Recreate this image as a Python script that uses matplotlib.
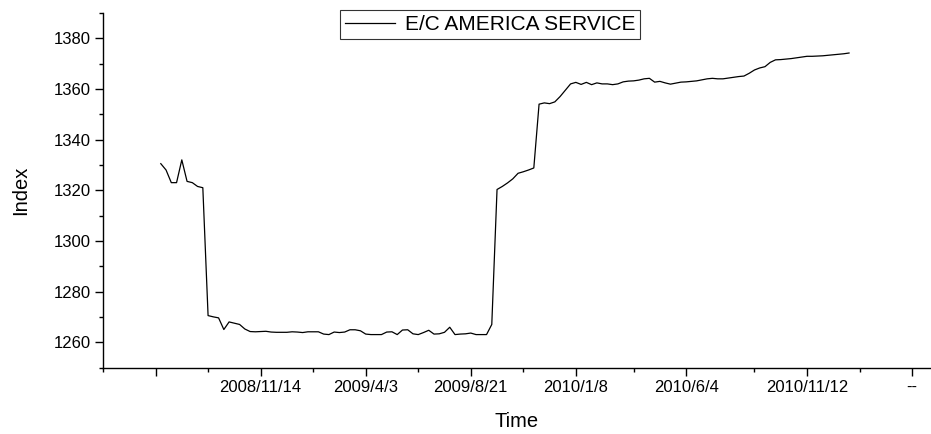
import numpy as np
import pandas as pd
import matplotlib
matplotlib.use("Agg")
import matplotlib.pyplot as plt
from matplotlib.ticker import MultipleLocator, FixedLocator, NullFormatter

plt.rcParams['font.family'] = ['Liberation Sans', 'DejaVu Sans']

# weekly index values, 2008/7/4 .. 2011/2/4
weeks = pd.date_range('2008-07-04', periods=132, freq='7D')
index_vals = [
    1330.5, 1328.0, 1323.0, 1323.0, 1332.0, 1323.5, 1323.0, 1321.5, 1321.0, 1270.5,
    1270.0, 1269.6, 1265.0, 1268.0, 1267.5, 1267.0, 1265.2, 1264.2, 1264.1, 1264.2,
    1264.3, 1264.0, 1263.9, 1263.9, 1263.9, 1264.1, 1264.0, 1263.8, 1264.1, 1264.1,
    1264.1, 1263.2, 1263.0, 1264.0, 1263.8, 1264.0, 1264.9, 1264.9, 1264.5, 1263.2,
    1263.0, 1263.0, 1263.0, 1264.0, 1264.1, 1263.0, 1264.8, 1264.9, 1263.3, 1263.0,
    1263.8, 1264.7, 1263.2, 1263.3, 1263.9, 1265.9, 1263.0, 1263.2, 1263.3, 1263.6,
    1263.0, 1263.0, 1263.0, 1267.0, 1320.3, 1321.5, 1322.9, 1324.5, 1326.7, 1327.3,
    1328.0, 1328.8, 1354.0, 1354.5, 1354.2, 1354.9, 1357.0, 1359.5, 1362.0, 1362.6,
    1361.8, 1362.6, 1361.7, 1362.4, 1362.0, 1362.0, 1361.7, 1362.0, 1362.8, 1363.1,
    1363.2, 1363.5, 1364.0, 1364.2, 1362.7, 1363.0, 1362.4, 1361.9, 1362.3, 1362.7,
    1362.8, 1363.0, 1363.2, 1363.6, 1364.0, 1364.2, 1364.0, 1364.0, 1364.3, 1364.6,
    1364.9, 1365.1, 1366.2, 1367.5, 1368.3, 1368.8, 1370.5, 1371.5, 1371.6, 1371.8,
    1372.0, 1372.3, 1372.6, 1372.9, 1372.9, 1373.0, 1373.1, 1373.3, 1373.5, 1373.7,
    1373.9, 1374.2,
]

tick_dates = pd.to_datetime(['2008-06-27', '2008-11-14', '2009-04-03', '2009-08-21',
                             '2010-01-08', '2010-06-04', '2010-11-12', '2011-04-01'])
tick_labels = ['', '2008/11/14', '2009/4/3', '2009/8/21', '2010/1/8',
               '2010/6/4', '2010/11/12', '--']

fig = plt.figure(figsize=(9.31, 4.34), dpi=100)
ax = fig.add_axes([103 / 931, 66.5 / 434, 1 - 103 / 931, (367.5 - 13) / 434])

ax.plot(weeks, index_vals, color='black', lw=0.9, label='E/C AMERICA SERVICE')

x0 = matplotlib.dates.date2num(tick_dates[0])
ax.set_xlim(x0 - 70, x0 + 147.6 * 7)
ax.set_ylim(1250, 1390)

ax.xaxis.set_major_locator(FixedLocator(matplotlib.dates.date2num(tick_dates)))
ax.xaxis.set_minor_locator(FixedLocator(matplotlib.dates.date2num(tick_dates) - 70))
ax.set_xticklabels(tick_labels)
ax.xaxis.set_minor_formatter(NullFormatter())
ax.yaxis.set_major_locator(MultipleLocator(20))
ax.yaxis.set_minor_locator(MultipleLocator(10))

for s in ['top', 'right']:
    ax.spines[s].set_visible(False)
for s in ['left', 'bottom']:
    ax.spines[s].set_linewidth(1.0)

ax.tick_params(which='major', direction='out', length=5.5, width=1.0, labelsize=12)
ax.tick_params(which='minor', direction='out', length=3, width=1.0)

ax.set_xlabel('Time', fontsize=14.5, labelpad=12)
ax.set_ylabel('Index', fontsize=14.5, labelpad=17)

leg = fig.legend(loc='upper left', bbox_to_anchor=(340 / 931, 1 - 10 / 434),
                 fontsize=15, frameon=True, fancybox=False, handlelength=2.4,
                 borderpad=0.25, handletextpad=0.45, borderaxespad=0)
leg.get_frame().set_edgecolor('black')
leg.get_frame().set_linewidth(0.8)

fig.savefig('out.png', dpi=100)
